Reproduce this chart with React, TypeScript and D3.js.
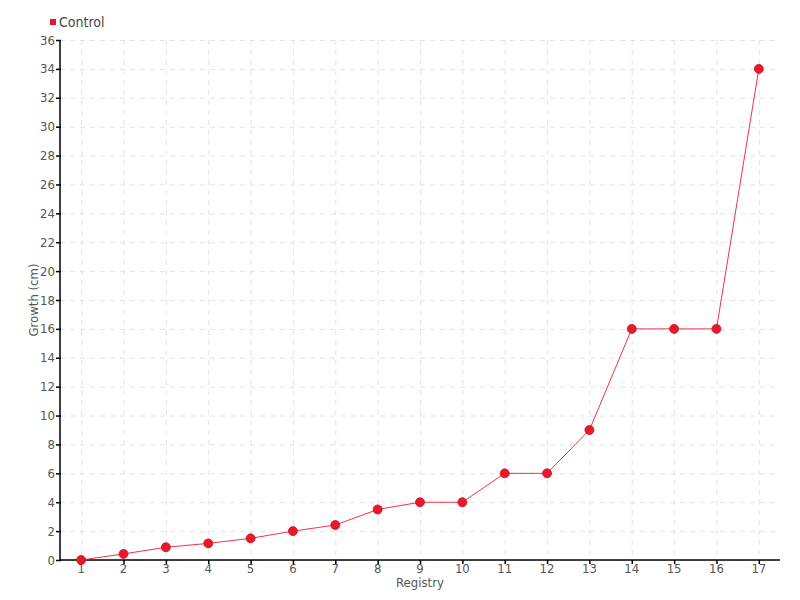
import React from "react";
import * as d3 from "d3";

const categories = ["1","2","3","4","5","6","7","8","9","10","11","12","13","14","15","16","17"];
const controlValues = [0, 0.42, 0.88, 1.15, 1.5, 2, 2.42, 3.5, 4, 4, 6, 6, 9, 16, 16, 16, 34];
const yTicks = d3.range(0, 37, 2);
const seriesName = "Control";
const xTitle = "Registry";
const yTitle = "Growth (cm)";

const W = 800, H = 600;
const m = { left: 60, right: 20, top: 40, bottom: 40 };
const FONT = "'DejaVu Sans Condensed', 'Liberation Sans Narrow', sans-serif";

export default function App() {
  const x = d3.scaleBand<string>().domain(categories).range([m.left, W - m.right]).padding(0);
  const y = d3.scaleLinear().domain([0, 36]).range([H - m.bottom, m.top]);
  const cx = (c: string) => (x(c) as number) + x.bandwidth() / 2;
  const line = d3.line<number>().x((_, i) => cx(categories[i])).y((d) => y(d));
  const x0 = m.left, x1 = W - m.right, yb = H - m.bottom;
  return (
    <svg width={W} height={H} style={{ position: "absolute", left: 0, top: 0, background: "#fff" }}>
      <g stroke="#e3e3e3" strokeDasharray="5,5" strokeWidth={1}>
        {yTicks.map((t) => (
          <line key={"h" + t} x1={x0} x2={x1} y1={y(t) + 0.5} y2={y(t) + 0.5} />
        ))}
        {categories.map((c) => (
          <line key={"v" + c} x1={cx(c) + 0.5} x2={cx(c) + 0.5} y1={m.top} y2={yb} />
        ))}
      </g>
      <g stroke="#000" strokeWidth={1.5}>
        <line x1={x0} x2={x0} y1={m.top} y2={yb} />
        <line x1={x0} x2={x1} y1={yb} y2={yb} />
        {yTicks.map((t) => (
          <line key={"yt" + t} x1={x0 - 4} x2={x0 + 1} y1={y(t) + 0.5} y2={y(t) + 0.5} />
        ))}
        {categories.map((c) => (
          <line key={"xt" + c} x1={cx(c) + 0.5} x2={cx(c) + 0.5} y1={yb} y2={yb + 4} />
        ))}
      </g>
      <g fontFamily={FONT} fontSize={13} fill="#555">
        {yTicks.map((t) => (
          <text key={"yl" + t} x={x0 - 5} y={y(t)} dy="0.35em" textAnchor="end">{t}</text>
        ))}
        {categories.map((c) => (
          <text key={"xl" + c} x={cx(c)} y={yb + 13} textAnchor="middle">{c}</text>
        ))}
        <text x={420} y={587} textAnchor="middle">{xTitle}</text>
        <text transform={`translate(38,${(m.top + yb) / 2}) rotate(-90)`} textAnchor="middle">{yTitle}</text>
      </g>
      <path d={line(controlValues) || ""} fill="none" stroke="#f0334a" strokeWidth={1} />
      <g>
        {controlValues.map((v, i) => (
          <circle key={i} cx={cx(categories[i])} cy={y(v)} r={4.5} fill="#e8192c" stroke="#c8141f" strokeWidth={0.8} />
        ))}
      </g>
      <g fontFamily={FONT} fontSize={14} fill="#444">
        <rect x={50} y={19} width={6} height={6} fill="#e8192c" />
        <text x={59} y={22} dy="0.35em">{seriesName}</text>
      </g>
    </svg>
  );
}
